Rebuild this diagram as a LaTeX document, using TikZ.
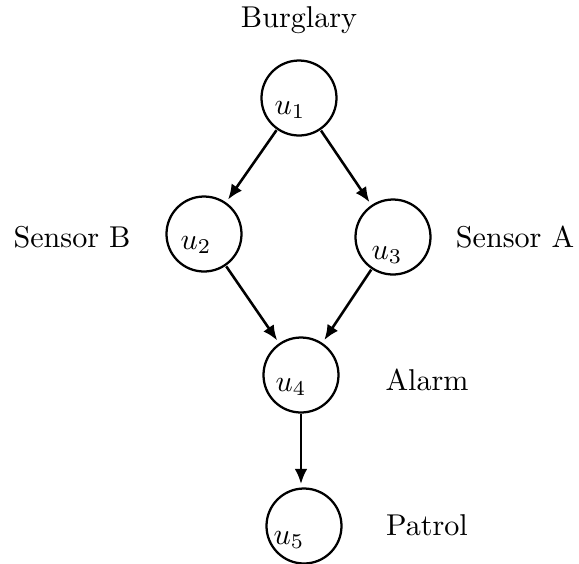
\documentclass[tikz,border=0pt]{standalone}
\usepackage{tikz}
\usetikzlibrary{arrows.meta}

\begin{document}
\begin{tikzpicture}[x=0.332pt, y=-0.332pt,
    var/.style={draw, circle, line width=0.75pt, minimum size=24.9pt, inner sep=0pt, outer sep=0pt},
    edge/.style={-{Latex[length=5pt, width=4.2pt]}, line width=0.85pt, shorten >=1.5pt, shorten <=0.6pt}]
    \useasboundingbox (0,0) rectangle (579,563);

    % Variables
    \node[var] (u1) at (299,98) {};
    \node[var] (u2) at (204,234) {};
    \node[var] (u3) at (393,237) {};
    \node[var] (u4) at (301,375) {};
    \node[var] (u5) at (304,526) {};

    % Indices
    \node (i1) at (290,110) {$u_1$};
    \node (i2) at (196,245) {$u_2$};
    \node (i3) at (387,255) {$u_3$};
    \node (i4) at (291,387) {$u_4$};
    \node (i5) at (289,540) {$u_5$};

    % Names
    \node (burglary) at (299,20) {Burglary};
    \node (sensorb) at (72,237) {Sensor B};
    \node (sensora) at (515,237) {Sensor A};
    \node (alarm) at (427,380) {Alarm};
    \node (patrol) at (427,525) {Patrol};

    % Edges
    \draw[edge] (u1) -- (u2);
    \draw[edge] (u1) -- (u3);
    \draw[edge] (u2) -- (u4);
    \draw[edge] (u3) -- (u4);
    \draw[edge] (u4) -- (u4 |- u5.north);
\end{tikzpicture}
\end{document}
